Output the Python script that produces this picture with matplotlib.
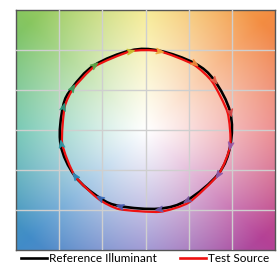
import numpy as np
import matplotlib
matplotlib.use("Agg")
import matplotlib.pyplot as plt
from matplotlib.markers import MarkerStyle
from matplotlib.path import Path
from matplotlib.patches import PathPatch
from matplotlib.lines import Line2D

# ---- data ----
bin_angles_deg = [13, 38, 56, 81, 100, 126.5, 148, 163, -170, -145, -122, -107, -81, -61, -33, -11]
reference_radius = [1.005, 1.01, 1.01, 1.005, 1.01, 1.005, 1.0, 1.0, 1.0, 1.0, 1.0, 0.995, 0.995, 1.0, 1.005, 1.0]
test_radius = [0.975, 0.98, 0.99, 1.0, 1.0, 0.99, 0.985, 0.98, 0.98, 1.0, 1.02, 1.035, 1.035, 1.035, 1.01, 1.0]
arrow_colors = ["#d94a4a", "#e8604a", "#f08a3a", "#f0a83a", "#c8c030", "#5caa48", "#3aa060",
                "#2a9a80", "#2a9aa8", "#2a8ab8", "#3a6ab8", "#4a5ab0", "#6a5aa8", "#7a5aa0",
                "#8a5aa8", "#9a5aa8"]
legend_labels = ["Reference Illuminant", "Test Source"]
grid_ticks = [-1.0, -0.5, 0.0, 0.5, 1.0]

order = np.argsort(np.mod(bin_angles_deg, 360))
ang = np.deg2rad(np.array(bin_angles_deg, float))[order]
rr = np.array(reference_radius)[order]
rt = np.array(test_radius)[order]
cols = [arrow_colors[i] for i in order]

xr, yr = rr * np.cos(ang), rr * np.sin(ang)
xt, yt = rt * np.cos(ang), rt * np.sin(ang)


def closed_smooth_path(x, y, tension=1.0):
    """Closed Catmull-Rom curve through the points as cubic Bezier path."""
    P = np.column_stack([x, y])
    n = len(P)
    verts = [P[0]]
    codes = [Path.MOVETO]
    for i in range(n):
        p0, p1, p2, p3 = P[i - 1], P[i], P[(i + 1) % n], P[(i + 2) % n]
        c1 = p1 + (p2 - p0) / 6.0 * tension
        c2 = p2 - (p3 - p1) / 6.0 * tension
        verts += [c1, c2, p2]
        codes += [Path.CURVE4] * 3
    return Path(np.array(verts), codes)


fig = plt.figure(figsize=(2.78, 2.66), dpi=100)
ax = fig.add_axes([0.0576, 0.06, 0.932, 0.902])

# ---- hue background ----
n = 300
g = np.linspace(-1.5, 1.5, n)
X, Y = np.meshgrid(g, g)
theta = np.mod(np.degrees(np.arctan2(Y, X)), 360)
R = np.hypot(X, Y)
anchor_deg = np.array([0, 45, 90, 135, 180, 225, 270, 315, 360])
anchor_rgb = np.array([
    [232, 110, 112],
    [243, 140, 65],
    [245, 230, 120],
    [135, 198, 95],
    [80, 185, 160],
    [65, 140, 200],
    [135, 125, 200],
    [180, 65, 150],
    [232, 110, 112],
], float) / 255.0
img = np.zeros(X.shape + (3,))
for c in range(3):
    img[..., c] = np.interp(theta, anchor_deg, anchor_rgb[:, c])
s = np.clip(R / 1.9, 0, 1) ** 1.1
img = (1 - s[..., None]) * 1.0 + s[..., None] * img
ax.imshow(img, extent=[-1.5, 1.5, -1.5, 1.5], origin="lower", aspect="auto", zorder=0,
          interpolation="bilinear")

ax.set_xlim(-1.5, 1.5)
ax.set_ylim(-1.5, 1.5)
ax.set_xticks(grid_ticks)
ax.set_yticks(grid_ticks)
ax.tick_params(length=0, labelbottom=False, labelleft=False)
ax.grid(True, color="#cfcfcf", linewidth=1.0, zorder=1)
ax.set_axisbelow(False)
for sp in ax.spines.values():
    sp.set_color("#555555")
    sp.set_linewidth(1.0)

ax.add_patch(PathPatch(closed_smooth_path(xr, yr), fill=False, edgecolor="black", lw=1.9, zorder=3))
ax.add_patch(PathPatch(closed_smooth_path(xt, yt, tension=0.6), fill=False, edgecolor="#ee1111",
                       lw=1.6, zorder=4, joinstyle="round"))

head = Path([(1, 0), (-0.8, 0.7), (-0.3, 0), (-0.8, -0.7), (1, 0)],
            [Path.MOVETO, Path.LINETO, Path.LINETO, Path.LINETO, Path.CLOSEPOLY])
for x, y, a, c in zip(xr, yr, ang, cols):
    m = MarkerStyle(head).rotated(deg=np.degrees(a) - 90)
    ax.plot([x], [y], marker=m, color=c, markersize=5.5, zorder=5, linestyle="none", alpha=0.9)

h1 = Line2D([], [], color="black", lw=1.9)
h2 = Line2D([], [], color="#ee1111", lw=1.9)
fig.legend([h1, h2], legend_labels, loc="lower center", bbox_to_anchor=(0.522, -0.032), ncol=2,
           frameon=False, handlelength=2.2, handletextpad=0.15, columnspacing=1.95,
           prop={"family": "Lato", "size": 8.5})

fig.savefig("out.png", dpi=100)
